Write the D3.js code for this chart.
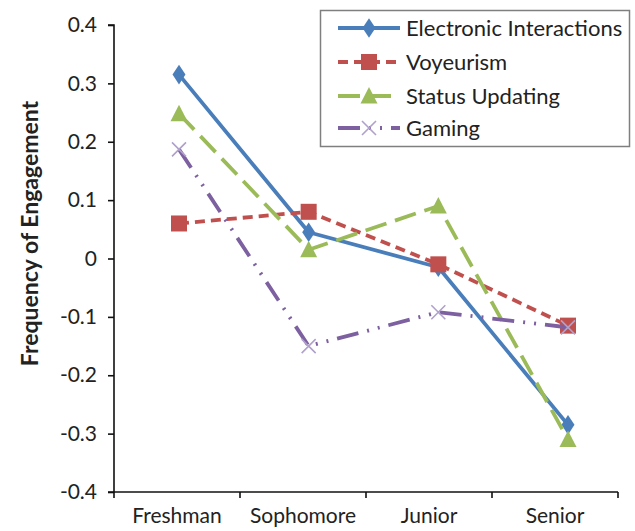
<!DOCTYPE html>
<html>
<head>
<meta charset="utf-8">
<script src="https://cdn.jsdelivr.net/npm/d3@7"></script>
<style>
  html, body { margin: 0; padding: 0; background: #fff; }
  svg { display: block; }
  text { font-family: Lato, "Open Sans", sans-serif; fill: #222; }
</style>
</head>
<body>
<svg id="chart" width="635" height="531"></svg>
<script>
// Class years on the x axis
const categories = ["Freshman", "Sophomore", "Junior", "Senior"];

// Frequency of engagement per class year, one array per activity
const electronicInteractions = [0.315, 0.045, -0.015, -0.285];
const voyeurism = [0.06, 0.08, -0.01, -0.115];
const statusUpdating = [0.248, 0.015, 0.09, -0.31];
const gaming = [0.187, -0.15, -0.092, -0.118];

// Y axis tick values and labels
const yTicks = [0.4, 0.3, 0.2, 0.1, 0, -0.1, -0.2, -0.3, -0.4];
const yTickLabels = ["0.4", "0.3", "0.2", "0.1", "0", "-0.1", "-0.2", "-0.3", "-0.4"];

const seriesNames = ["Electronic Interactions", "Voyeurism", "Status Updating", "Gaming"];

const series = [
  { name: seriesNames[0], values: electronicInteractions, color: "#4a7ebb", dash: null, marker: "diamond" },
  { name: seriesNames[1], values: voyeurism, color: "#c0504d", dash: "10,6", marker: "square" },
  { name: seriesNames[2], values: statusUpdating, color: "#9bbb59", dash: "22,9", marker: "triangle" },
  { name: seriesNames[3], values: gaming, color: "#7d60a0", dash: "22,9,2,9,2,9", marker: "cross" }
];

const svg = d3.select("#chart");

const plot = { left: 114, right: 618, top: 25, bottom: 492 };

// Category bands for the axis, point positions for the marks
const xAxisScale = d3.scaleBand().domain(categories).range([plot.left, plot.right]);
const x = d3.scalePoint().domain(categories).range([179, 568]);
const y = d3.scaleLinear().domain([-0.4, 0.4]).range([plot.bottom, plot.top]);

// Y axis
const yAxis = d3.axisLeft(y)
  .tickValues(yTicks)
  .tickFormat((d, i) => yTickLabels[i])
  .tickSize(6)
  .tickPadding(11);

const gy = svg.append("g")
  .attr("transform", `translate(${plot.left},0)`)
  .call(yAxis);
gy.select(".domain").attr("stroke", "#111").attr("stroke-width", 1.6).attr("d", `M-6,${plot.top}H0V${plot.bottom}`);
gy.selectAll(".tick line").attr("stroke", "#111").attr("stroke-width", 1.6);
gy.selectAll(".tick text")
  .style("font-family", "Lato, 'Open Sans', sans-serif")
  .style("font-size", "21px")
  .attr("fill", "#222");

// X axis: ticks on the band boundaries, labels centred in each band
const gx = svg.append("g")
  .attr("transform", `translate(0,${plot.bottom})`);
gx.append("line")
  .attr("x1", plot.left - 6).attr("x2", plot.right)
  .attr("stroke", "#111").attr("stroke-width", 1.6);
const boundaries = categories.map(c => xAxisScale(c)).concat([plot.right]);
gx.selectAll(".xtick")
  .data(boundaries)
  .join("line")
  .attr("class", "xtick")
  .attr("x1", d => d).attr("x2", d => d)
  .attr("y1", 0).attr("y2", 6)
  .attr("stroke", "#111").attr("stroke-width", 1.6);
gx.selectAll(".xlabel")
  .data(categories)
  .join("text")
  .attr("class", "xlabel")
  .attr("x", d => xAxisScale(d) + xAxisScale.bandwidth() / 2)
  .attr("y", 31)
  .attr("text-anchor", "middle")
  .style("font-size", "21px")
  .text(d => d);

// Y axis title
svg.append("text")
  .attr("transform", `translate(38,${(plot.top + plot.bottom) / 2 - 25}) rotate(-90)`)
  .attr("text-anchor", "middle")
  .style("font-size", "23px")
  .style("font-weight", "bold")
  .text("Frequency of Engagement");

// Marker shapes
function drawMarker(g, type, color) {
  if (type === "diamond") {
    g.append("path").attr("d", d3.symbol(d3.symbolDiamond, 110)()).attr("fill", color)
      .attr("transform", "scale(1.15,1)");
  } else if (type === "square") {
    g.append("rect").attr("x", -8).attr("y", -8).attr("width", 16).attr("height", 16).attr("fill", color);
  } else if (type === "triangle") {
    g.append("path").attr("d", "M0,-9L8.5,7.5L-8.5,7.5Z").attr("fill", color);
  } else if (type === "cross") {
    g.append("path").attr("d", "M-7,-7L7,7M-7,7L7,-7")
      .attr("stroke", "#b0a0cc").attr("stroke-width", 1.6).attr("fill", "none");
  }
}

const line = d3.line()
  .x((d, i) => x(categories[i]))
  .y(d => y(d));

series.forEach(s => {
  const g = svg.append("g").attr("class", "series");
  g.append("path")
    .datum(s.values)
    .attr("d", line)
    .attr("fill", "none")
    .attr("stroke", s.color)
    .attr("stroke-width", 3.8)
    .attr("stroke-linecap", s.dash ? "butt" : "round")
    .attr("stroke-linejoin", "round")
    .attr("stroke-dasharray", s.dash);
  s.values.forEach((v, i) => {
    const m = g.append("g").attr("transform", `translate(${x(categories[i])},${y(v)})`);
    drawMarker(m, s.marker, s.color);
  });
});

// Legend
const legend = svg.append("g");
legend.append("rect")
  .attr("x", 320.5).attr("y", 10.5)
  .attr("width", 309).attr("height", 136)
  .attr("fill", "#fff").attr("stroke", "#7f7f7f").attr("stroke-width", 1.5);

const legendRows = [28, 62, 96, 128];
series.forEach((s, i) => {
  const row = legend.append("g").attr("transform", `translate(0,${legendRows[i]})`);
  row.append("line")
    .attr("x1", 338).attr("x2", 400)
    .attr("stroke", s.color).attr("stroke-width", 3.8)
    .attr("stroke-dasharray", s.dash);
  const m = row.append("g").attr("transform", "translate(369,0)");
  drawMarker(m, s.marker, s.color);
  row.append("text")
    .attr("x", 406).attr("y", 0)
    .attr("dy", "0.35em")
    .style("font-size", "22px")
    .text(s.name);
});
</script>
</body>
</html>
